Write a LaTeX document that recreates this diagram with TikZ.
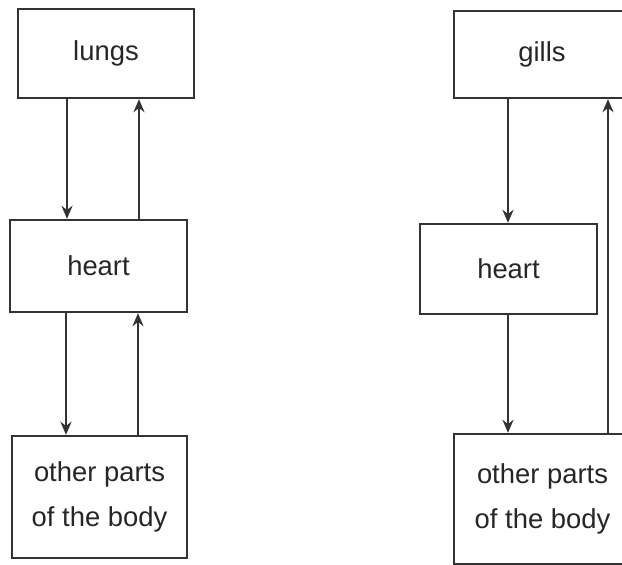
\documentclass[tikz,border=0pt]{standalone}
\usepackage{fontspec}
\setmainfont{Liberation Sans}
\usetikzlibrary{arrows.meta}
\begin{document}
\begin{tikzpicture}[x=0.5pt, y=-0.5pt,
    box/.style={draw=black!80, line width=1.2pt, inner sep=0pt, align=center,
        text=black!85, font=\fontsize{13.7}{22.5}\selectfont},
    arr/.style={draw=black!80, line width=1.1pt, -{Stealth[length=6.5pt,width=5.5pt]}}]

        \useasboundingbox (0,0) rectangle (622,565);
        \clip (0,0) rectangle (622,565);

        % 肺
        \node[box, minimum width=88pt, minimum height=44.5pt] (lungs) at (106,53.5) {lungs};
        \node[box, minimum width=88.5pt, minimum height=46pt] (lheart) at (98.5,266) {heart};
        \node[box, minimum width=87.5pt, minimum height=61pt] (lbody) at (99.5,497) {other parts\\of the body};

        \draw[arr] (lungs.south -| 67,0) -- (lheart.north -| 67,0);
        \draw[arr] (lheart.north -| 139,0) -- (lungs.south -| 139,0);
        \draw[arr] (lheart.south -| 66,0) -- (lbody.north -| 66,0);
        \draw[arr] (lbody.north -| 138,0) -- (lheart.south -| 138,0);

        % 鳃
        \node[box, minimum width=88pt, minimum height=43.5pt] (gills) at (542,54.5) {gills};
        \node[box, minimum width=88.5pt, minimum height=45pt] (rheart) at (508.5,269) {heart};
        \node[box, minimum width=88.5pt, minimum height=65pt] (rbody) at (542.5,499) {other parts\\of the body};

        \draw[arr] (gills.south -| 508,0) -- (rheart.north -| 508,0);
        \draw[arr] (rheart.south -| 508,0) -- (rbody.north -| 508,0);
        \draw[arr] (rbody.north -| 608,0) -- (gills.south -| 608,0);
    \end{tikzpicture}
\end{document}
